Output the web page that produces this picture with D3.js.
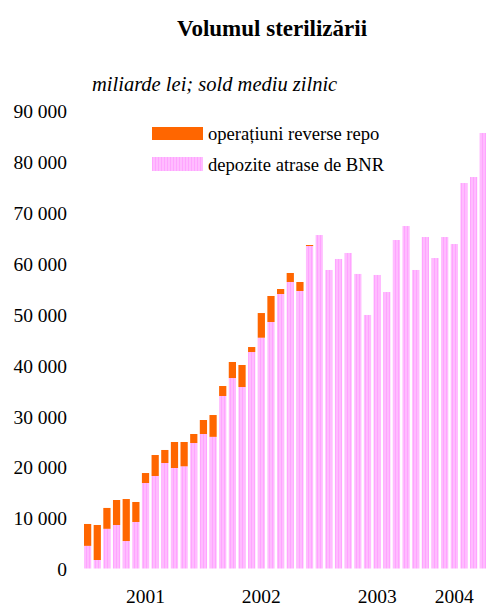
<!DOCTYPE html>
<html>
<head>
<meta charset="utf-8">
<script src="https://cdn.jsdelivr.net/npm/d3@7"></script>
<style>
  body { margin: 0; background: #fff; }
  svg text { font-family: 'Liberation Serif', 'Times New Roman', Times, 'DejaVu Serif', serif; fill: #000; }
</style>
</head>
<body>
<script>
// luni (ian 2001 - iun 2004)
var months = ["2001-01","2001-02","2001-03","2001-04","2001-05","2001-06","2001-07","2001-08","2001-09","2001-10","2001-11","2001-12",
              "2002-01","2002-02","2002-03","2002-04","2002-05","2002-06","2002-07","2002-08","2002-09","2002-10","2002-11","2002-12",
              "2003-01","2003-02","2003-03","2003-04","2003-05","2003-06","2003-07","2003-08","2003-09","2003-10","2003-11","2003-12",
              "2004-01","2004-02","2004-03","2004-04","2004-05","2004-06"];

// depozite atrase de BNR (miliarde lei)
var deposits = [4450, 1670, 7800, 8550, 5400, 9140, 16800, 18180, 20730, 19750, 20080, 24660,
                26430, 25870, 33900, 37430, 35660, 42540, 45350, 48440, 53940, 56300, 54530, 63370,
                65530, 58660, 60820, 62000, 57880, 49820, 57680, 54330, 64550, 67300, 58660, 65140,
                61010, 65140, 63760, 75750, 76930, 85580];

// operatiuni reverse repo (miliarde lei)
var repo = [4300, 6880, 4100, 4910, 8250, 3930, 1960, 4120, 2560, 5110, 4780, 1770,
            2750, 4290, 1960, 3150, 4330, 980, 4850, 5110, 980, 1770, 1770, 200,
            0, 0, 0, 0, 0, 0, 0, 0, 0, 0, 0, 0,
            0, 0, 0, 0, 0, 0];

var yTicks = [0, 10000, 20000, 30000, 40000, 50000, 60000, 70000, 80000, 90000];
var yearLabels = ["2001", "2002", "2003", "2004"];
var yearAt = ["2001-07", "2002-07", "2003-07", "2004-03"];

var width = 486, height = 608;
var serif = "'Liberation Serif', 'Times New Roman', Times, 'DejaVu Serif', serif";

var svg = d3.select("body").append("svg")
    .attr("width", width)
    .attr("height", height);

// striped pink fill for deposits
var defs = svg.append("defs");
var pat = defs.append("pattern")
    .attr("id", "pinkStripe")
    .attr("patternUnits", "userSpaceOnUse")
    .attr("width", 3).attr("height", 4);
pat.append("rect").attr("width", 3).attr("height", 4).attr("fill", "#ffbcff");
pat.append("rect").attr("x", 2).attr("width", 1).attr("height", 4).attr("fill", "#ffa4ff");

var x = d3.scaleBand()
    .domain(months)
    .range([82.8, 488.1])
    .paddingInner(0.25)
    .paddingOuter(0.125);

var y = d3.scaleLinear()
    .domain([0, 90000])
    .range([568.5, 110.5]);

var fmt = d3.formatLocale({decimal: ",", thousands: " ", grouping: [3], currency: ["", ""]}).format(",");

// title
svg.append("text")
    .attr("x", 272).attr("y", 36)
    .attr("text-anchor", "middle")
    .attr("font-family", serif)
    .style("font-size", "23px")
    .style("font-weight", "bold")
    .text("Volumul sterilizării");

svg.append("text")
    .attr("x", 92).attr("y", 91)
    .attr("font-family", serif)
    .style("font-size", "20.5px")
    .style("font-style", "italic")
    .text("miliarde lei; sold mediu zilnic");

// y axis (labels only)
var yAxis = svg.append("g")
    .attr("transform", "translate(71,1)")
    .call(d3.axisLeft(y).tickValues(yTicks).tickFormat(fmt).tickSize(0).tickPadding(4));
yAxis.attr("font-family", serif).attr("font-size", null);
yAxis.select(".domain").remove();
yAxis.selectAll("text")
    .style("font-size", "19.5px")
    .attr("fill", "#000");

// bars
var bars = svg.append("g");
bars.selectAll(".dep")
    .data(months)
    .enter().append("rect")
    .attr("class", "dep")
    .attr("x", function(d) { return x(d); })
    .attr("width", x.bandwidth())
    .attr("y", function(d, i) { return y(deposits[i]); })
    .attr("height", function(d, i) { return y(0) - y(deposits[i]); })
    .attr("fill", "url(#pinkStripe)");

bars.selectAll(".repo")
    .data(months)
    .enter().append("rect")
    .attr("class", "repo")
    .attr("x", function(d) { return x(d); })
    .attr("width", x.bandwidth())
    .attr("y", function(d, i) { return y(deposits[i] + repo[i]); })
    .attr("height", function(d, i) { return y(deposits[i]) - y(deposits[i] + repo[i]); })
    .attr("fill", "#ff6600");

// year labels
svg.append("g").selectAll("text")
    .data(yearLabels)
    .enter().append("text")
    .attr("x", function(d, i) { return x(yearAt[i]) + x.bandwidth() / 2; })
    .attr("y", 603)
    .attr("text-anchor", "middle")
    .attr("font-family", serif)
    .style("font-size", "19.5px")
    .text(function(d) { return d; });

// legend
var legend = svg.append("g").attr("font-family", serif);
legend.append("rect")
    .attr("x", 152).attr("y", 127).attr("width", 51).attr("height", 13)
    .attr("fill", "#ff6600");
legend.append("text")
    .attr("x", 208).attr("y", 140)
    .style("font-size", "18.6px")
    .text("operațiuni reverse repo");
legend.append("rect")
    .attr("x", 152).attr("y", 157).attr("width", 51).attr("height", 14)
    .attr("fill", "url(#pinkStripe)");
legend.append("text")
    .attr("x", 208).attr("y", 171)
    .style("font-size", "18.6px")
    .text("depozite atrase de BNR");
</script>
</body>
</html>
